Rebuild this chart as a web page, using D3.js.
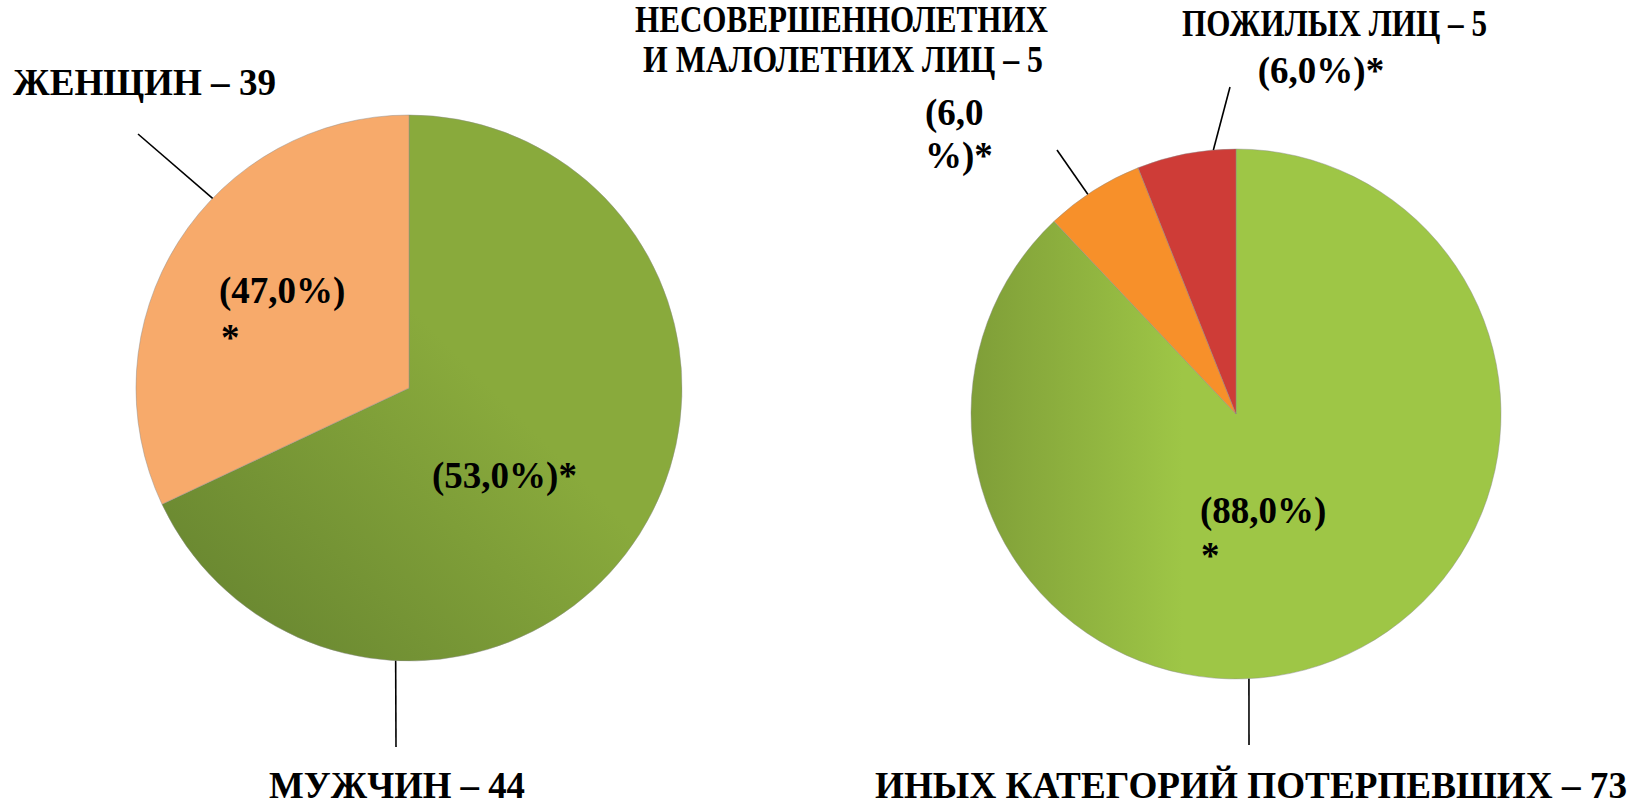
<html>
<head>
<meta charset="utf-8">
<script src="https://d3js.org/d3.v7.min.js"></script>
<style>
body {margin: 0; background: #fff;}
</style>
</head>
<body>
<svg id="chart" width="1633" height="807"></svg>
<script>
// left pie: sex of the victims
const sexNames = ["МУЖЧИН", "ЖЕНЩИН"];
const sexCounts = [44, 39];
const sexPercents = ["53,0", "47,0"];
const sexShares = [68, 32];          // slice sizes as drawn in the picture
const sexColors = ["url(#gLeft)", "#f7aa6b"];

// right pie: victim categories
const catNames = ["ИНЫХ КАТЕГОРИЙ ПОТЕРПЕВШИХ", "НЕСОВЕРШЕННОЛЕТНИХ И МАЛОЛЕТНИХ ЛИЦ", "ПОЖИЛЫХ ЛИЦ"];
const catCounts = [73, 5, 5];
const catPercents = ["88,0", "6,0", "6,0"];
const catColors = ["url(#gRight)", "#f7902a", "#ce3c37"];

// pick the first serif font that is really installed
function pickFont(list) {
  var ctx = document.createElement("canvas").getContext("2d");
  var probe = "ЖЕНЩИН (47,0%) mmwwii";
  for (var i = 0; i < list.length; i++) {
    var ok = ["monospace", "sans-serif"].every(function(base) {
      ctx.font = "bold 40px " + base;
      var w0 = ctx.measureText(probe).width;
      ctx.font = "bold 40px '" + list[i] + "', " + base;
      return ctx.measureText(probe).width !== w0;
    });
    if (ok) return "'" + list[i] + "', serif";
  }
  return "serif";
}
const FONT = pickFont(["Liberation Serif", "Times New Roman", "Tinos", "DejaVu Serif", "Noto Serif", "FreeSerif"]);

const svg = d3.select("#chart");
const defs = svg.append("defs");

const L = {cx: 409, cy: 388, r: 273};
const R = {cx: 1236, cy: 414, r: 265};

// gradients for the green slices (coordinates relative to the pie centre)
var g1 = defs.append("linearGradient").attr("id", "gLeft").attr("gradientUnits", "userSpaceOnUse")
  .attr("x1", -0.75 * L.r).attr("y1", 0.75 * L.r).attr("x2", 0.15 * L.r).attr("y2", -0.15 * L.r);
g1.append("stop").attr("offset", 0).attr("stop-color", "#6a8831");
g1.append("stop").attr("offset", 1).attr("stop-color", "#89aa3c");

var g2 = defs.append("linearGradient").attr("id", "gRight").attr("gradientUnits", "userSpaceOnUse")
  .attr("x1", -R.r).attr("y1", 0).attr("x2", -0.2 * R.r).attr("y2", 0);
g2.append("stop").attr("offset", 0).attr("stop-color", "#7f9e38");
g2.append("stop").attr("offset", 1).attr("stop-color", "#9ec646");

const pie = d3.pie().sort(null).value(d => d);

function drawPie(c, values, colors) {
  var arc = d3.arc().innerRadius(0).outerRadius(c.r);
  var g = svg.append("g").attr("transform", "translate(" + c.cx + "," + c.cy + ")");
  g.selectAll("path")
    .data(pie(values))
    .enter()
    .append("path")
    .attr("d", arc)
    .attr("fill", (d, i) => colors[i])
    .attr("stroke", "rgba(140,140,140,0.45)")
    .attr("stroke-width", 1);
}
drawPie(L, sexShares, sexColors);
drawPie(R, catCounts, catColors);

// leader lines: from the pie edge at angle (deg) to a point near the label
function leader(c, deg, x2, y2) {
  var a = deg * Math.PI / 180;
  svg.append("line")
    .attr("x1", c.cx + c.r * Math.sin(a)).attr("y1", c.cy - c.r * Math.cos(a))
    .attr("x2", x2).attr("y2", y2)
    .attr("stroke", "#000").attr("stroke-width", 1.6);
}
leader(L, -46, 138, 134);
leader(L, 182.8, 396, 747);
leader(R, -34, 1057, 150);
leader(R, -4.9, 1230, 87);
leader(R, 177.2, 1249, 745);

function label(txt, x, y, anchor, len) {
  var t = svg.append("text").attr("x", x).attr("y", y)
    .style("font-family", FONT).style("font-weight", "bold")
    .attr("font-size", 37).attr("fill", "#000")
    .attr("text-anchor", anchor || "start").text(txt);
  if (len) t.attr("textLength", len).attr("lengthAdjust", "spacingAndGlyphs");
  return t;
}

// left pie labels
label(sexNames[1] + " – " + sexCounts[1], 13, 95, "start", 263);
label("(" + sexPercents[1] + "%)", 219, 303);
label("*", 221, 350);
label("(" + sexPercents[0] + "%)*", 432, 488);
label(sexNames[0] + " – " + sexCounts[0], 269, 798, "start", 256);

// right pie labels
var minorWords = catNames[1].split(" ");
var minorPct = catPercents[1].split(",");
label(minorWords[0], 635, 32, "start", 413);
label(minorWords.slice(1).join(" ") + " – " + catCounts[1], 643, 72, "start", 400);
label("(" + minorPct[0] + "," + minorPct[1], 925, 125);
label("%)*", 925, 168);
label(catNames[2] + " – " + catCounts[2], 1182, 36, "start", 305);
label("(" + catPercents[2] + "%)*", 1321, 83, "middle");
label("(" + catPercents[0] + "%)", 1200, 523);
label("*", 1201, 568);
label(catNames[0] + " – " + catCounts[0], 875, 798, "start", 752);
</script>
</body>
</html>
